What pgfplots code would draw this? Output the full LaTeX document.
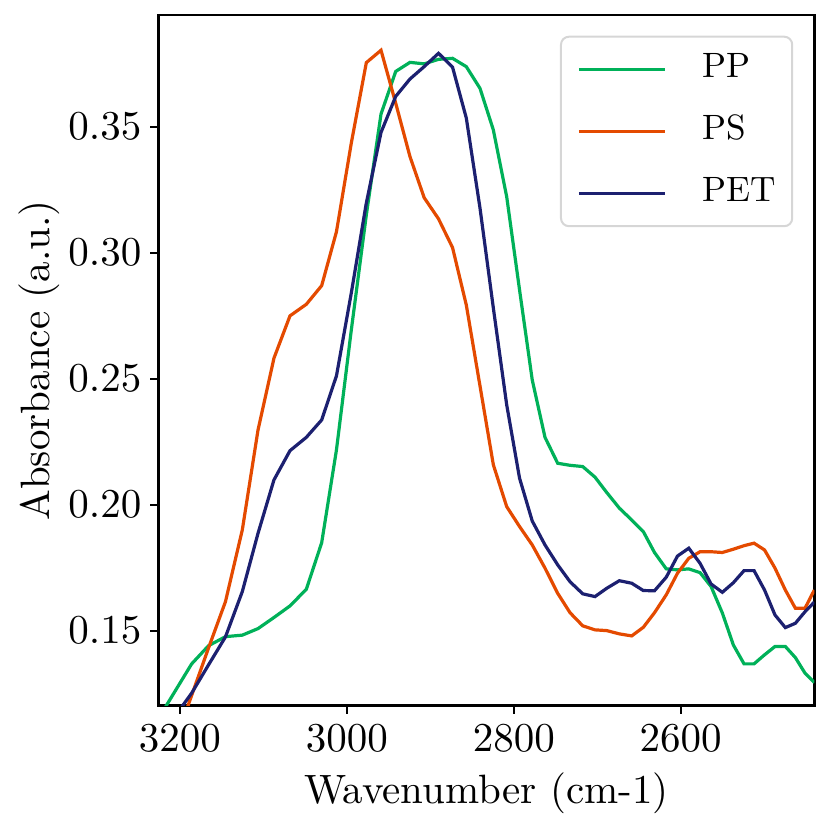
\documentclass[border=0pt]{standalone}
\usepackage{pgfplots}
\pgfplotsset{compat=1.18}
\usepackage{pgfplotstable}
\definecolor{ppgreen}{RGB}{0,177,89}
\definecolor{psorange}{RGB}{228,74,0}
\definecolor{petnavy}{RGB}{28,32,112}
\newcommand{\bigtxt}[1]{\scalebox{2.05}{#1}}
\newcommand{\lgd}[1]{\scalebox{1.76}{#1}\hspace{0.5pt}}
\pgfplotstableread{
x PP PS PET
3226.0 0.1150 0.0872 0.1067
3206.0 0.1259 0.1057 0.1160
3186.0 0.1368 0.1243 0.1252
3165.8 0.1440 0.1431 0.1364
3145.5 0.1476 0.1615 0.1475
3125.3 0.1482 0.1900 0.1655
3106.5 0.1508 0.2296 0.1886
3087.4 0.1552 0.2581 0.2098
3068.2 0.1598 0.2749 0.2214
3048.6 0.1664 0.2795 0.2267
3030.2 0.1849 0.2869 0.2336
3012.5 0.2217 0.3083 0.2511
2994.7 0.2693 0.3435 0.2840
2976.7 0.3150 0.3754 0.3197
2959.1 0.3550 0.3803 0.3477
2941.5 0.3719 0.3593 0.3620
2924.4 0.3755 0.3381 0.3689
2907.4 0.3749 0.3218 0.3738
2890.2 0.3767 0.3134 0.3791
2873.4 0.3771 0.3020 0.3736
2856.9 0.3738 0.2792 0.3534
2840.5 0.3652 0.2471 0.3177
2824.5 0.3487 0.2158 0.2780
2808.5 0.3222 0.1992 0.2396
2793.1 0.2852 0.1913 0.2105
2777.9 0.2495 0.1840 0.1935
2762.6 0.2267 0.1748 0.1840
2747.4 0.2164 0.1648 0.1761
2732.6 0.2156 0.1571 0.1694
2717.4 0.2151 0.1519 0.1646
2702.7 0.2109 0.1503 0.1635
2688.6 0.2048 0.1500 0.1668
2673.5 0.1986 0.1487 0.1698
2658.7 0.1939 0.1479 0.1688
2644.8 0.1893 0.1513 0.1659
2631.4 0.1810 0.1571 0.1658
2617.3 0.1745 0.1642 0.1712
2603.8 0.1741 0.1728 0.1796
2590.3 0.1745 0.1787 0.1827
2576.8 0.1730 0.1813 0.1767
2563.6 0.1675 0.1813 0.1685
2550.1 0.1570 0.1810 0.1652
2536.9 0.1443 0.1823 0.1690
2524.1 0.1368 0.1837 0.1738
2512.1 0.1368 0.1847 0.1738
2499.5 0.1404 0.1820 0.1661
2487.0 0.1437 0.1748 0.1562
2474.6 0.1437 0.1661 0.1512
2462.6 0.1393 0.1589 0.1529
2451.0 0.1331 0.1589 0.1575
2439.9 0.1294 0.1661 0.1613
}\datatable
\begin{document}
\begin{tikzpicture}
\useasboundingbox (-79.15pt,-62.15pt) rectangle (335.85pt,352.85pt);
\begin{axis}[
  at={(0pt,0pt)}, anchor=south west,
  scale only axis, width=328pt, height=345.35pt,
  x dir=reverse,
  xmin=2439.9, xmax=3226,
  ymin=0.1202, ymax=0.3943,
  xtick={3200,3000,2800,2600},
  ytick={0.15,0.20,0.25,0.30,0.35},
  xticklabel={\bigtxt{$\pgfmathprintnumber[set thousands separator={}]{\tick}$}},
  yticklabel={\bigtxt{$\pgfmathprintnumber[fixed,fixed zerofill,precision=2]{\tick}$}},
  scaled y ticks=false,
  xtick pos=left, ytick pos=left,
  tick align=outside,
  major tick length=4pt,
  tick style={line width=1pt, black},
  axis line style={line width=1.3pt, black},
  tick label style={font=\fontsize{10}{12}\selectfont},
  xticklabel style={inner sep=0pt, anchor=north, yshift=-5.7pt},
  yticklabel style={inner sep=0pt, anchor=east, xshift=-4.3pt},
  label style={font=\fontsize{10}{12}\selectfont},
  xlabel={\bigtxt{Wavenumber (cm-1)}},
  ylabel={\bigtxt{Absorbance (a.u.)}},
  xlabel style={at={(axis description cs:0.5,-0.1423)}, anchor=base, inner sep=0pt},
  ylabel style={at={(axis description cs:-0.1651,0.5)}, anchor=base, inner sep=0pt},
  legend cell align=left,
  legend image code/.code={\draw (0pt,0pt) -- (43pt,0pt);},
  legend style={at={(0.9679,0.970)}, anchor=north east,
    font=\fontsize{10}{12}\selectfont,
    draw=black!16, line width=1pt, rounded corners=4pt, fill=white,
    inner xsep=8.1pt, inner ysep=8.15pt, row sep=14.55pt,
    nodes={inner sep=0pt, text height=12pt, text depth=4.45pt},
    /tikz/every odd column/.append style={column sep=18.15pt}},
]
\addplot[ppgreen, line width=1.6pt] table[x=x, y=PP] {\datatable};
\addlegendentry{\lgd{PP}}
\addplot[psorange, line width=1.6pt] table[x=x, y=PS] {\datatable};
\addlegendentry{\lgd{PS}}
\addplot[petnavy, line width=1.6pt] table[x=x, y=PET] {\datatable};
\addlegendentry{\lgd{PET}}
\end{axis}
\end{tikzpicture}
\end{document}
